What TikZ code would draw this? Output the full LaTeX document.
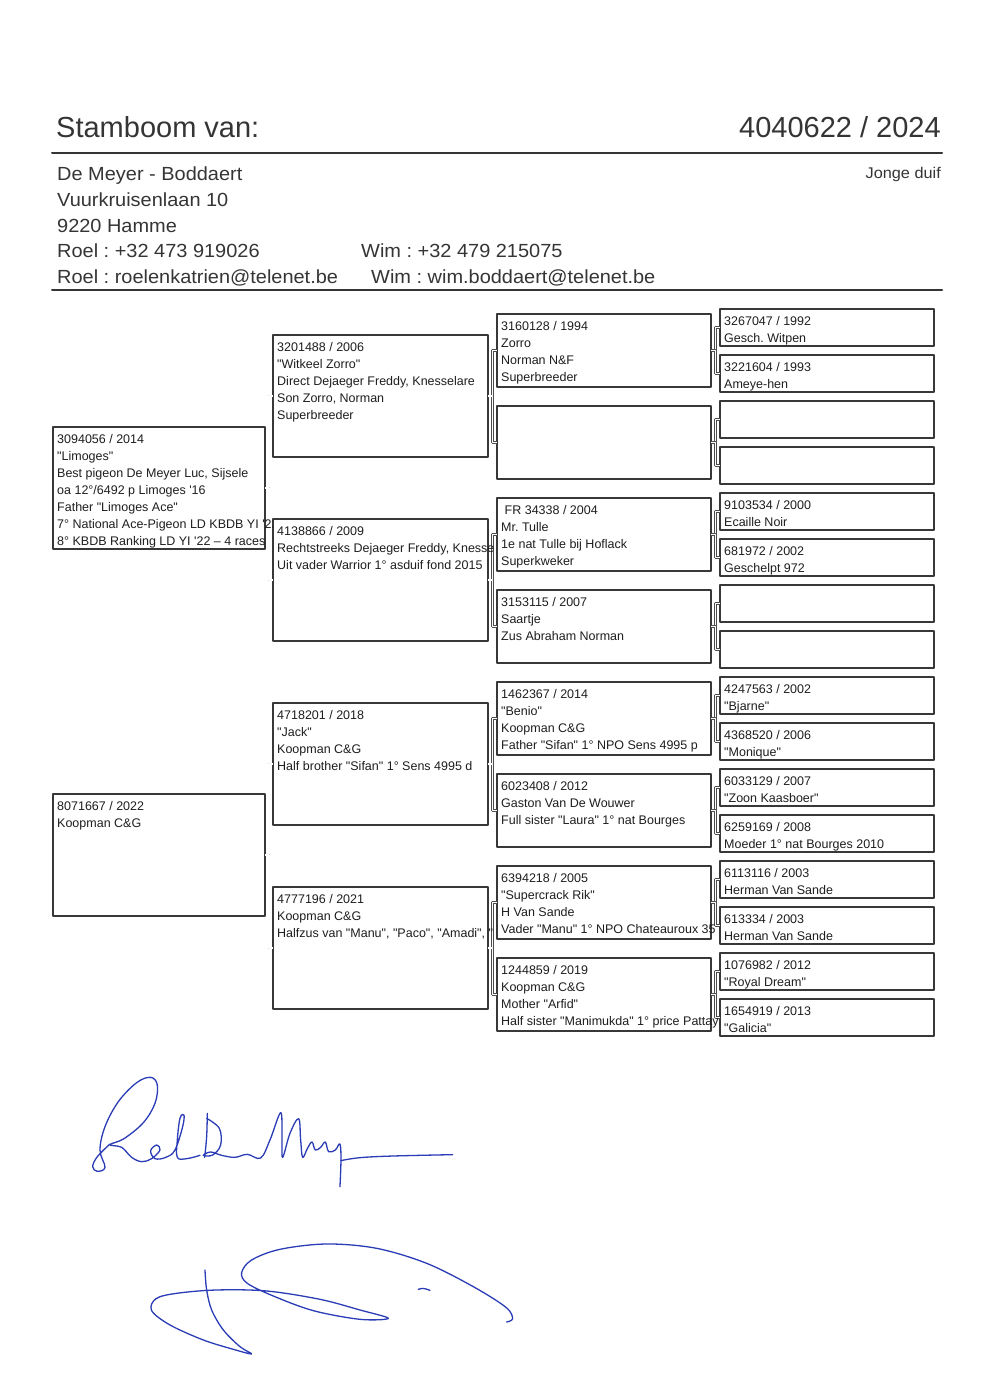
\documentclass[tikz,border=0pt]{standalone}
\usepackage{fontspec}
\setmainfont{Liberation Sans}
\newfontfamily\boxfont{Liberation Sans}
\newfontfamily\addrfont[FakeStretch=1.05]{Liberation Sans}
\definecolor{ink}{HTML}{1E1E1E}
\definecolor{head}{HTML}{353535}
\definecolor{frame}{HTML}{383838}
\definecolor{sig}{HTML}{2B3DB6}
\newcommand{\ped}[1]{\begin{tabular}[t]{@{}l@{}}#1\end{tabular}}
\frenchspacing
\tikzset{
  every picture/.style={line join=round, line cap=round},
  pbox/.style={draw=frame, line width=1.6pt, anchor=north west, inner sep=0pt, outer sep=0pt},
  gen1/.style={pbox, minimum width=212pt, minimum height=122pt},
  gen2/.style={pbox, minimum width=215pt, minimum height=122pt},
  gen3/.style={pbox, minimum width=214pt, minimum height=73pt},
  gen4/.style={pbox, minimum width=214pt, minimum height=37pt},
  ptext/.style={anchor=base west, inner sep=0pt, text=ink, xshift=4pt, yshift=-16pt,
    font=\boxfont\fontsize{12.5}{17}\selectfont},
  link/.style={draw=black!70, line width=0.55pt, double=white, double distance=1.2pt, line cap=butt},
  rule/.style={draw=head, line width=2pt},
  addr/.style={anchor=base west, inner sep=0pt, text=head, font=\addrfont\fontsize{19}{26}\selectfont},
  sigline/.style={draw=sig, line width=1.3pt},
}
\begin{document}
\begin{tikzpicture}[x=1pt, y=-1pt]
\useasboundingbox[fill=white] (0,0) rectangle (990,1385);

% header
\node[anchor=base west, inner sep=0pt, text=head, font=\fontsize{29}{35}\selectfont] (title) at (56,137) {Stamboom van:};
\node[anchor=base east, inner sep=0pt, text=head, font=\fontsize{29}{35}\selectfont] (ring) at (941,137) {4040622 / 2024};
\draw[rule] (52,152.5) -- (942,152.5);
\node[addr] (name) at (57,180) {De Meyer - Boddaert};
\node[addr] (street) at (57,206) {Vuurkruisenlaan 10};
\node[addr] (town) at (57,232) {9220 Hamme};
\node[addr] (telR) at (57,257.5) {Roel : +32 473 919026};
\node[addr] (telW) at (361,257.5) {Wim : +32 479 215075};
\node[addr] (mailR) at (57,283) {Roel : roelenkatrien@telenet.be};
\node[addr] (mailW) at (371,283) {Wim : wim.boddaert@telenet.be};
\node[anchor=base east, inner sep=0pt, text=head, font=\addrfont\fontsize{15.5}{20}\selectfont] (age) at (941,178) {Jonge duif};
\draw[rule] (52,289.5) -- (942,289.5);

% boxes
\node[gen1] (A1) at (53,427) {};
\node[gen1] (A2) at (53,794) {};
\foreach \i/\y in {1/335,2/519,3/703,4/887}
  \node[gen2] (B\i) at (273,\y) {};
\foreach \i in {1,...,8}
  \node[gen3] (C\i) at (497,{314+92*(\i-1)}) {};
\foreach \i in {1,...,16}
  \node[gen4] (D\i) at (720,{309+46*(\i-1)}) {};

% connectors
\foreach \i in {1,2} {
  \pgfmathtruncatemacro\j{2*\i-1}
  \pgfmathtruncatemacro\k{2*\i}
  \draw[link] (A\i.east) -- ++(4,0) |- (B\j.west);
  \draw[link] (A\i.east) -- ++(4,0) |- (B\k.west);
}
\foreach \i in {1,...,4} {
  \pgfmathtruncatemacro\j{2*\i-1}
  \pgfmathtruncatemacro\k{2*\i}
  \draw[link] (B\i.east) -- ++(4.5,0) |- (C\j.west);
  \draw[link] (B\i.east) -- ++(4.5,0) |- (C\k.west);
}
\foreach \i in {1,...,8} {
  \pgfmathtruncatemacro\j{2*\i-1}
  \pgfmathtruncatemacro\k{2*\i}
  \draw[link] (C\i.east) -- ++(4.5,0) |- (D\j.west);
  \draw[link] (C\i.east) -- ++(4.5,0) |- (D\k.west);
}

% texts, cut at the next column
\begin{scope}
\clip (50,300) rectangle (272,1040);
\node[ptext] (tA1) at (A1.north west) {\ped{3094056 / 2014\\ "Limoges"\\ Best pigeon De Meyer Luc, Sijsele\\ oa 12°/6492 p Limoges \textquotesingle16\\ Father "Limoges Ace"\\ 7° National Ace-Pigeon LD KBDB YI \textquotesingle22\\ 8° KBDB Ranking LD YI \textquotesingle22 \textendash\ 4 races}};
\node[ptext] (tA2) at (A2.north west) {\ped{8071667 / 2022\\ Koopman C\&G}};
\end{scope}
\begin{scope}
\clip (272,300) rectangle (496,1040);
\node[ptext] (tB1) at (B1.north west) {\ped{3201488 / 2006\\ "Witkeel Zorro"\\ Direct Dejaeger Freddy, Knesselare\\ Son Zorro, Norman\\ Superbreeder}};
\node[ptext] (tB2) at (B2.north west) {\ped{4138866 / 2009\\ Rechtstreeks Dejaeger Freddy, Knesse\\ Uit vader Warrior 1° asduif fond 2015}};
\node[ptext] (tB3) at (B3.north west) {\ped{4718201 / 2018\\ "Jack"\\ Koopman C\&G\\ Half brother "Sifan" 1° Sens 4995 d}};
\node[ptext] (tB4) at (B4.north west) {\ped{4777196 / 2021\\ Koopman C\&G\\ Halfzus van "Manu", "Paco", "Amadi", "}};
\end{scope}
\begin{scope}
\clip (496,300) rectangle (719,1040);
\node[ptext] (tC1) at (C1.north west) {\ped{3160128 / 1994\\ Zorro\\ Norman N\&F\\ Superbreeder}};
\node[ptext] (tC3) at (C3.north west) {\ped{\ FR 34338 / 2004\\ Mr. Tulle\\ 1e nat Tulle bij Hoflack\\ Superkweker}};
\node[ptext] (tC4) at (C4.north west) {\ped{3153115 / 2007\\ Saartje\\ Zus Abraham Norman}};
\node[ptext] (tC5) at (C5.north west) {\ped{1462367 / 2014\\ "Benio"\\ Koopman C\&G\\ Father "Sifan" 1° NPO Sens 4995 p}};
\node[ptext] (tC6) at (C6.north west) {\ped{6023408 / 2012\\ Gaston Van De Wouwer\\ Full sister "Laura" 1° nat Bourges}};
\node[ptext] (tC7) at (C7.north west) {\ped{6394218 / 2005\\ "Supercrack Rik"\\ H Van Sande\\ Vader "Manu" 1° NPO Chateauroux 35}};
\node[ptext] (tC8) at (C8.north west) {\ped{1244859 / 2019\\ Koopman C\&G\\ Mother "Arfid"\\ Half sister "Manimukda" 1° price Pattay}};
\end{scope}
\node[ptext] (tD1) at (D1.north west) {\ped{3267047 / 1992\\ Gesch. Witpen}};
\node[ptext] (tD2) at (D2.north west) {\ped{3221604 / 1993\\ Ameye-hen}};
\node[ptext] (tD5) at (D5.north west) {\ped{9103534 / 2000\\ Ecaille Noir}};
\node[ptext] (tD6) at (D6.north west) {\ped{681972 / 2002\\ Geschelpt 972}};
\node[ptext] (tD9) at (D9.north west) {\ped{4247563 / 2002\\ "Bjarne"}};
\node[ptext] (tD10) at (D10.north west) {\ped{4368520 / 2006\\ "Monique"}};
\node[ptext] (tD11) at (D11.north west) {\ped{6033129 / 2007\\ "Zoon Kaasboer"}};
\node[ptext] (tD12) at (D12.north west) {\ped{6259169 / 2008\\ Moeder 1° nat Bourges 2010}};
\node[ptext] (tD13) at (D13.north west) {\ped{6113116 / 2003\\ Herman Van Sande}};
\node[ptext] (tD14) at (D14.north west) {\ped{613334 / 2003\\ Herman Van Sande}};
\node[ptext] (tD15) at (D15.north west) {\ped{1076982 / 2012\\ "Royal Dream"}};
\node[ptext] (tD16) at (D16.north west) {\ped{1654919 / 2013\\ "Galicia"}};

% signatures
\begin{scope}[shift={(60,1060)}, scale=0.3333]
\draw[sigline] plot[smooth, tension=0.6] coordinates {(150,252) (112,290) (98,320) (112,334) (135,322) (120,270) (135,200) (175,125) (230,68) (272,52) (292,75) (285,130) (250,188) (192,236) (150,254) (185,262) (215,292) (245,305) (275,296) (300,270) (290,255) (272,272) (285,296) (318,292) (345,270) (368,200) (372,165) (360,175) (352,240) (352,292) (380,296) (420,286)};
\draw[sigline] plot[smooth, tension=0.6] coordinates {(442,160) (440,230) (434,292)};
\draw[sigline] plot[smooth, tension=0.6] coordinates {(440,175) (478,205) (482,255) (458,285) (430,286) (452,276) (485,286) (525,292) (562,283) (602,294) (630,240) (662,158) (666,230) (668,292) (690,220) (716,176) (722,240) (728,292) (742,266) (756,246) (766,270) (782,262) (796,246) (806,275) (826,270) (840,252) (843,300) (840,380)};
\draw[sigline] plot[smooth, tension=0.6] coordinates {(842,302) (900,293) (1000,288) (1178,284)};
\draw[sigline] plot[smooth, tension=0.55] coordinates {(435,630) (440,690) (455,750) (490,810) (540,860) (575,882) (520,868) (430,840) (330,795) (275,752) (288,716) (350,700) (470,690) (620,693) (780,718) (900,750) (985,775) (900,778) (760,752) (640,708) (562,670) (545,638) (575,600) (660,568) (800,552) (950,565) (1100,610) (1240,680) (1338,742) (1358,776) (1340,786)};
\draw[sigline] (1075,688) .. controls (1090,684) .. (1110,691);
\end{scope}
\end{tikzpicture}
\end{document}
